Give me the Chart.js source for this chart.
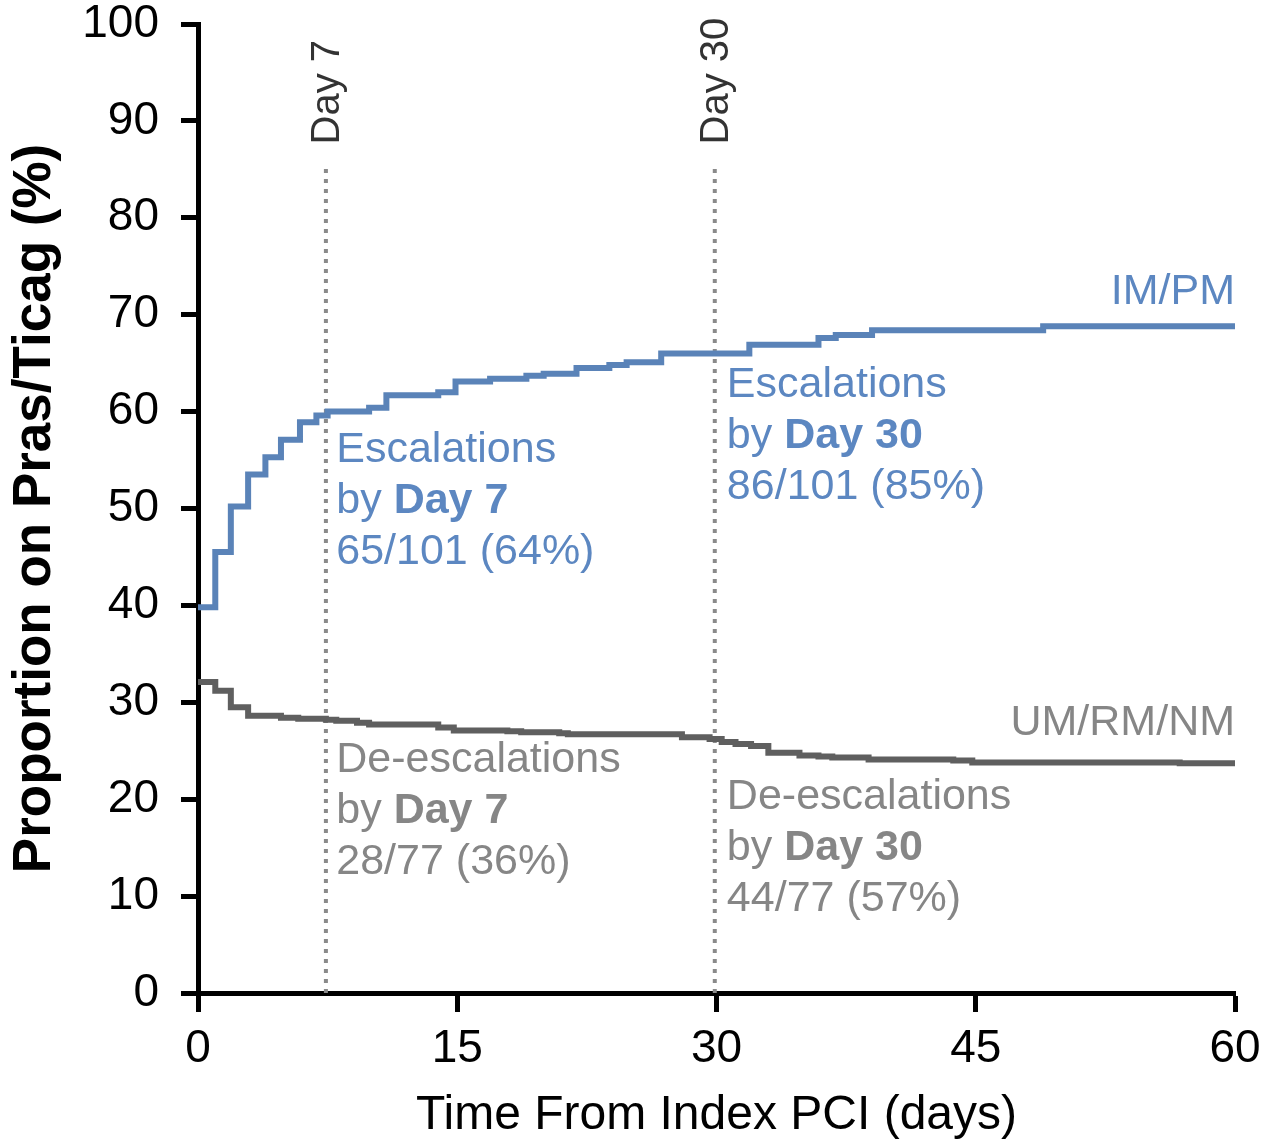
<!DOCTYPE html>
<html>
<head>
<meta charset="utf-8">
<script src="https://cdn.jsdelivr.net/npm/chart.js@4.4.1/dist/chart.umd.min.js"></script>
<style>
  body { margin: 0; background: #fff; }
  #wrap { width: 1282px; height: 1148px; }
</style>
</head>
<body>
<div id="wrap"><canvas id="kmChart" width="1282" height="1148"></canvas></div>
<script>
// IM/PM patients: day of change and % on prasugrel/ticagrelor from that day on
const imPmDays = [0, 1.0, 1.9, 2.9, 3.9, 4.8, 5.9, 6.85, 7.5, 9.9, 10.9, 13.9, 14.9, 16.9, 19.0, 20.0,
                  21.9, 23.8, 24.8, 26.8, 31.9, 35.9, 36.9, 39.0, 48.9, 60];
const imPmPct  = [39.8, 45.5, 50.2, 53.5, 55.3, 57.1, 58.9, 59.6, 60.0, 60.4, 61.7, 62.0, 63.1, 63.4, 63.7, 63.9,
                  64.5, 64.8, 65.1, 66.0, 66.9, 67.6, 67.9, 68.4, 68.8, 68.8];

// UM/RM/NM patients
const umDays = [0, 1.0, 1.9, 2.9, 4.8, 5.8, 7.4, 8.0, 9.2, 9.9, 13.9, 14.8, 17.9, 18.7, 20.9, 21.4,
                28.0, 29.6, 30.3, 31.1, 32.0, 33.0, 34.8, 35.9, 36.7, 38.8, 43.7, 44.8, 56.8, 60];
const umPct  = [32.1, 31.2, 29.5, 28.6, 28.4, 28.3, 28.2, 28.1, 27.9, 27.7, 27.4, 27.1, 27.0, 26.9, 26.8, 26.7,
                26.4, 26.2, 25.9, 25.7, 25.5, 24.8, 24.5, 24.4, 24.3, 24.1, 24.0, 23.8, 23.7, 23.7];

const xTicks = [0, 15, 30, 45, 60];

// vertical reference lines
const markerDays   = [7.4, 29.9];
const markerLabels = ['Day 7', 'Day 30'];
const markerTop    = 85.5;

const blueLine = '#5a83b8';
const blueText = '#5c87c1';
const greyLine = '#5f5f5f';
const greyText = '#868686';
const FONT = '"Liberation Sans", Arial, Helvetica, sans-serif';

function toPoints(xs, ys) {
    return xs.map((d, i) => ({x: d, y: ys[i]}));
}

// text blocks placed in data coordinates (day, %)
const notes = [
    {day: 8.0, pct: 56.0, color: blueText, align: 'left',
     lines: [[['Escalations', false]], [['by ', false], ['Day 7', true]], [['65/101 (64%)', false]]]},
    {day: 30.6, pct: 62.7, color: blueText, align: 'left',
     lines: [[['Escalations', false]], [['by ', false], ['Day 30', true]], [['86/101 (85%)', false]]]},
    {day: 8.0, pct: 24.0, color: greyText, align: 'left',
     lines: [[['De-escalations', false]], [['by ', false], ['Day 7', true]], [['28/77 (36%)', false]]]},
    {day: 30.6, pct: 20.2, color: greyText, align: 'left',
     lines: [[['De-escalations', false]], [['by ', false], ['Day 30', true]], [['44/77 (57%)', false]]]},
    {day: 60, pct: 72.3, color: blueText, align: 'right', lines: [[['IM/PM', false]]]},
    {day: 60, pct: 27.8, color: greyText, align: 'right', lines: [[['UM/RM/NM', false]]]}
];

const notesPlugin = {
    id: 'notes',
    afterDatasetsDraw(chart) {
        const ctx = chart.ctx;
        const xs = chart.scales.x, ys = chart.scales.y;
        ctx.save();
        ctx.textBaseline = 'middle';

        // Day 7 / Day 30 labels above the dotted lines
        markerDays.forEach((d, i) => {
            ctx.save();
            ctx.translate(xs.getPixelForValue(d) + 2, ys.getPixelForValue(markerTop) - 20);
            ctx.rotate(-Math.PI / 2);
            ctx.font = '40px ' + FONT;
            ctx.fillStyle = '#333333';
            ctx.textAlign = 'left';
            ctx.fillText(markerLabels[i], 0, 0);
            ctx.restore();
        });

        notes.forEach(n => {
            const x0 = xs.getPixelForValue(n.day);
            let y = ys.getPixelForValue(n.pct);
            ctx.fillStyle = n.color;
            n.lines.forEach(parts => {
                // measure whole line first so right alignment works with mixed weights
                let total = 0;
                parts.forEach(p => {
                    ctx.font = (p[1] ? 'bold ' : '') + '43px ' + FONT;
                    total += ctx.measureText(p[0]).width;
                });
                let x = n.align === 'right' ? x0 - total : x0;
                ctx.textAlign = 'left';
                parts.forEach(p => {
                    ctx.font = (p[1] ? 'bold ' : '') + '43px ' + FONT;
                    ctx.fillText(p[0], x, y);
                    x += ctx.measureText(p[0]).width;
                });
                y += 51;
            });
        });
        ctx.restore();
    }
};

const datasets = [
    {
        data: toPoints(imPmDays, imPmPct),
        stepped: true,
        borderColor: blueLine,
        borderWidth: 6,
        borderCapStyle: 'round',
        pointRadius: 0,
        fill: false
    },
    {
        data: toPoints(umDays, umPct),
        stepped: true,
        borderColor: greyLine,
        borderWidth: 6,
        borderCapStyle: 'round',
        pointRadius: 0,
        fill: false
    }
];
markerDays.forEach(d => {
    datasets.push({
        data: [{x: d, y: 0}, {x: d, y: markerTop}],
        borderColor: '#8a8a8a',
        borderWidth: 4,
        borderDash: [4, 6],
        pointRadius: 0,
        fill: false
    });
});

new Chart(document.getElementById('kmChart'), {
    type: 'line',
    data: {datasets: datasets},
    options: {
        responsive: false,
        animation: false,
        layout: {padding: {top: 24, right: 47, left: 0, bottom: 0}},
        plugins: {legend: {display: false}, tooltip: {enabled: false}},
        scales: {
            x: {
                type: 'linear',
                min: 0,
                max: 60,
                afterFit: s => { s.height = 155; },
                afterBuildTicks: s => { s.ticks = xTicks.map(v => ({value: v})); },
                ticks: {
                    color: '#000',
                    font: {family: FONT, size: 46, lineHeight: 1},
                    padding: 14,
                    maxRotation: 0
                },
                grid: {drawOnChartArea: false, tickLength: 19, tickWidth: 5, tickColor: '#000'},
                border: {color: '#000', width: 5},
                title: {
                    display: true,
                    text: 'Time From Index PCI (days)',
                    color: '#000',
                    font: {family: FONT, size: 48},
                    padding: {top: 0, bottom: 3}
                }
            },
            y: {
                min: 0,
                max: 100,
                afterFit: s => { s.width = 198; s.paddingTop = 0; s.paddingBottom = 0; },
                ticks: {
                    stepSize: 10,
                    color: '#000',
                    font: {family: FONT, size: 46, lineHeight: 1},
                    padding: 22
                },
                grid: {drawOnChartArea: false, tickLength: 17, tickWidth: 5, tickColor: '#000'},
                border: {color: '#000', width: 5},
                title: {
                    display: true,
                    text: 'Proportion on Pras/Ticag (%)',
                    color: '#000',
                    font: {family: FONT, size: 53, weight: 'bold'},
                    padding: {top: 4, bottom: 0}
                }
            }
        }
    },
    plugins: [notesPlugin]
});
</script>
</body>
</html>
